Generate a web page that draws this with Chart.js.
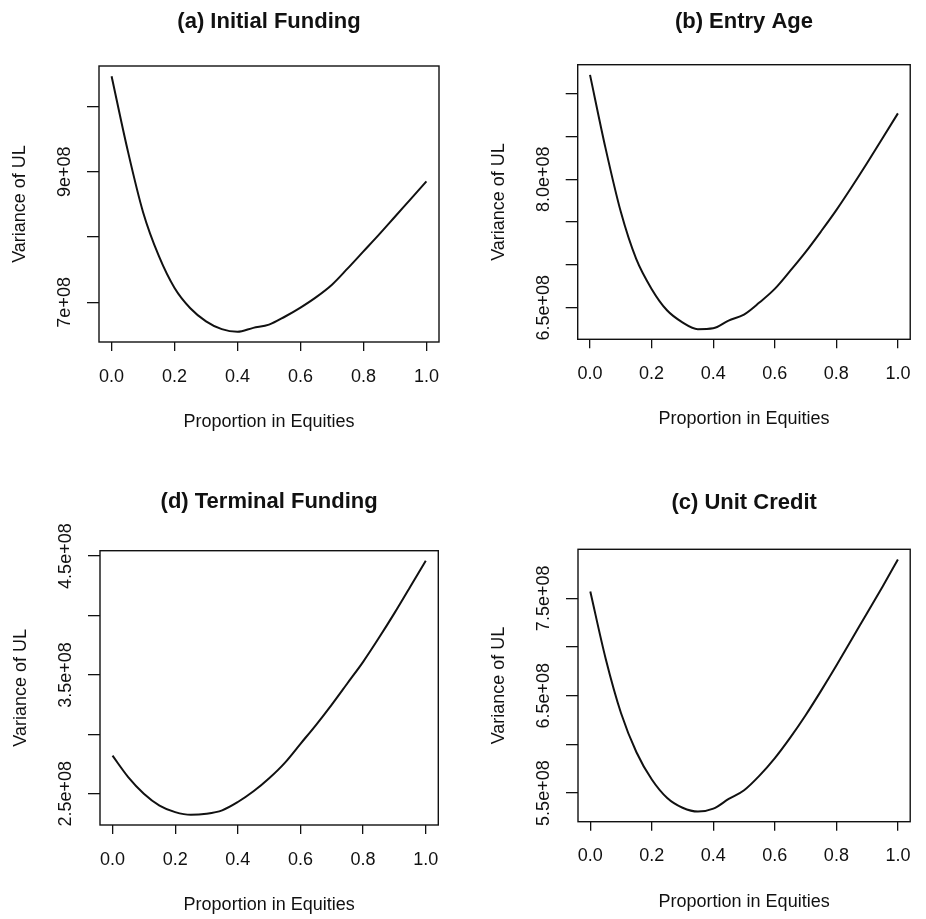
<!DOCTYPE html>
<html>
<head>
<meta charset="utf-8">
<title>Variance of UL by Proportion in Equities</title>
<script src="https://cdn.jsdelivr.net/npm/chart.js@4/dist/chart.umd.min.js"></script>
<style>
  html, body { margin: 0; padding: 0; background: #fff; }
  #page { position: relative; width: 926px; height: 919px; background: #fff; }
  #page canvas { position: absolute; }
</style>
</head>
<body>
<div id="page">
  <canvas id="cv-a" width="463" height="460" style="left:0;top:0"></canvas>
  <canvas id="cv-b" width="463" height="460" style="left:463px;top:0"></canvas>
  <canvas id="cv-d" width="463" height="459" style="left:0;top:460px"></canvas>
  <canvas id="cv-c" width="463" height="459" style="left:463px;top:460px"></canvas>
</div>
<script>
/* ── DATA ── */
// proportion invested in equities (common x grid for all four methods)
const EQUITY = [0, 0.05, 0.1, 0.15, 0.2, 0.25, 0.3, 0.35, 0.4, 0.45, 0.5,
                0.55, 0.6, 0.65, 0.7, 0.75, 0.8, 0.85, 0.9, 0.95, 1.0];

// variance of unfunded liability for each funding method
const VAR_INITIAL  = [10.46e8, 9.35e8, 8.38e8, 7.71e8, 7.22e8, 6.91e8, 6.71e8, 6.59e8, 6.55e8, 6.61e8, 6.66e8,
                      6.78e8, 6.92e8, 7.08e8, 7.27e8, 7.52e8, 7.78e8, 8.04e8, 8.31e8, 8.58e8, 8.85e8];
const VAR_ENTRY    = [9.22e8, 8.37e8, 7.62e8, 7.07e8, 6.72e8, 6.47e8, 6.33e8, 6.25e8, 6.26e8, 6.35e8, 6.42e8,
                      6.56e8, 6.72e8, 6.93e8, 7.15e8, 7.39e8, 7.64e8, 7.91e8, 8.19e8, 8.48e8, 8.77e8];
const VAR_TERMINAL = [2.82e8, 2.64e8, 2.50e8, 2.40e8, 2.345e8, 2.322e8, 2.331e8, 2.36e8, 2.43e8, 2.52e8, 2.63e8,
                      2.76e8, 2.92e8, 3.08e8, 3.25e8, 3.43e8, 3.61e8, 3.81e8, 4.02e8, 4.24e8, 4.46e8];
const VAR_UNIT     = [7.57e8, 6.88e8, 6.32e8, 5.92e8, 5.64e8, 5.45e8, 5.35e8, 5.31e8, 5.34e8, 5.44e8, 5.53e8,
                      5.68e8, 5.86e8, 6.07e8, 6.30e8, 6.55e8, 6.81e8, 7.08e8, 7.35e8, 7.62e8, 7.90e8];

// axis ticks
const X_TICKS = [0, 0.2, 0.4, 0.6, 0.8, 1.0];

const Y_TICKS_INITIAL  = [7e8, 8e8, 9e8, 10e8];
const Y_LABELS_INITIAL = ['7e+08', '', '9e+08', ''];
const Y_TICKS_ENTRY    = [6.5e8, 7.0e8, 7.5e8, 8.0e8, 8.5e8, 9.0e8];
const Y_LABELS_ENTRY   = ['6.5e+08', '', '', '8.0e+08', '', ''];
const Y_TICKS_TERMINAL  = [2.5e8, 3.0e8, 3.5e8, 4.0e8, 4.5e8];
const Y_LABELS_TERMINAL = ['2.5e+08', '', '3.5e+08', '', '4.5e+08'];
const Y_TICKS_UNIT     = [5.5e8, 6.0e8, 6.5e8, 7.0e8, 7.5e8];
const Y_LABELS_UNIT    = ['5.5e+08', '', '6.5e+08', '', '7.5e+08'];

/* ── STYLE ── */
const INK  = '#111';
const FONT = '"Liberation Sans", Arial, Helvetica, sans-serif';
const TITLE_SIZE = 22;
Chart.defaults.font.family = FONT;
Chart.defaults.color = INK;

// frame around the plot region + rotated y tick labels (S-plot look)
const rFrame = {
  id: 'rFrame',
  afterDraw(chart, args, opts) {
    const { ctx, chartArea: a, scales: { y } } = chart;
    ctx.save();
    ctx.strokeStyle = INK;
    ctx.lineWidth = 1.4;
    ctx.strokeRect(a.left, a.top, a.right - a.left, a.bottom - a.top);

    ctx.fillStyle = INK;
    ctx.font = '18px ' + FONT;
    ctx.textAlign = 'center';
    ctx.textBaseline = 'middle';
    opts.ticks.forEach((v, i) => {
      const txt = opts.labels[i];
      if (!txt) return;
      ctx.save();
      ctx.translate(a.left - 33.5, y.getPixelForValue(v));
      ctx.rotate(-Math.PI / 2);
      ctx.fillText(txt, 0, 0);
      ctx.restore();
    });
    ctx.restore();
  }
};

/* ── PANEL BUILDER ── */
// box = plot region inside the canvas, titleY = centre of the panel heading
function drawPanel(id, title, values, yTicks, yLabels, box, titleY) {
  const cv = document.getElementById(id);
  const W = cv.width, H = cv.height;

  // y range: data range stretched by 4% each side
  const lo = Math.min(...values), hi = Math.max(...values);
  const pad = (hi - lo) * 0.04;

  const titleLine = TITLE_SIZE * 1.2;
  const titleTop = titleY - titleLine / 2;
  const xAxisH = H - box.b;

  return new Chart(cv, {
    type: 'line',
    data: {
      datasets: [{
        data: EQUITY.map((x, i) => ({ x, y: values[i] })),
        borderColor: INK,
        borderWidth: 2,
        pointRadius: 0,
        cubicInterpolationMode: 'monotone',
        fill: false,
      }],
    },
    options: {
      responsive: false,
      animation: false,
      events: [],
      layout: { padding: { left: box.l - 99, right: W - box.r, top: 0, bottom: 0 } },
      plugins: {
        legend: { display: false },
        tooltip: { enabled: false },
        title: {
          display: true,
          text: title,
          fullSize: false,
          color: INK,
          font: { size: TITLE_SIZE, weight: 'bold', family: FONT },
          padding: { top: titleTop, bottom: box.t - titleTop - titleLine },
        },
        rFrame: { ticks: yTicks, labels: yLabels },
      },
      scales: {
        x: {
          type: 'linear',
          min: -0.04,
          max: 1.04,
          afterBuildTicks: s => { s.ticks = X_TICKS.map(value => ({ value })); },
          afterFit: s => { s.height = xAxisH; },
          border: { display: false },
          grid: { drawOnChartArea: false, drawTicks: true, tickLength: 9, color: INK, lineWidth: 1.3 },
          ticks: {
            padding: 15,
            maxRotation: 0,
            autoSkip: false,
            color: INK,
            font: { size: 18 },
            callback: v => Number(v).toFixed(1),
          },
          title: {
            display: true,
            text: 'Proportion in Equities',
            color: INK,
            font: { size: 18 },
            padding: { top: 0, bottom: xAxisH - 80 - 10.8 },
          },
        },
        y: {
          type: 'linear',
          min: lo - pad,
          max: hi + pad,
          afterBuildTicks: s => { s.ticks = yTicks.map(value => ({ value })); },
          afterFit: s => { s.width = 99; },
          border: { display: false },
          grid: { drawOnChartArea: false, drawTicks: true, tickLength: 12, color: INK, lineWidth: 1.3 },
          ticks: { display: false },
          title: {
            display: true,
            text: 'Variance of UL',
            color: INK,
            font: { size: 18 },
            padding: { top: 99 - 78.5 - 10.8, bottom: 0 },
          },
        },
      },
    },
    plugins: [rFrame],
  });
}

/* ── INIT ── */
drawPanel('cv-a', '(a) Initial Funding', VAR_INITIAL, Y_TICKS_INITIAL, Y_LABELS_INITIAL,
          { l: 99, t: 66, r: 439, b: 342 }, 21.5);
drawPanel('cv-b', '(b) Entry Age', VAR_ENTRY, Y_TICKS_ENTRY, Y_LABELS_ENTRY,
          { l: 114.7, t: 64.7, r: 456, b: 339.3 }, 21.5);
drawPanel('cv-d', '(d) Terminal Funding', VAR_TERMINAL, Y_TICKS_TERMINAL, Y_LABELS_TERMINAL,
          { l: 100, t: 90.7, r: 438.3, b: 365 }, 42);
drawPanel('cv-c', '(c) Unit Credit', VAR_UNIT, Y_TICKS_UNIT, Y_LABELS_UNIT,
          { l: 115, t: 89.3, r: 456, b: 361.7 }, 43);
</script>
</body>
</html>
